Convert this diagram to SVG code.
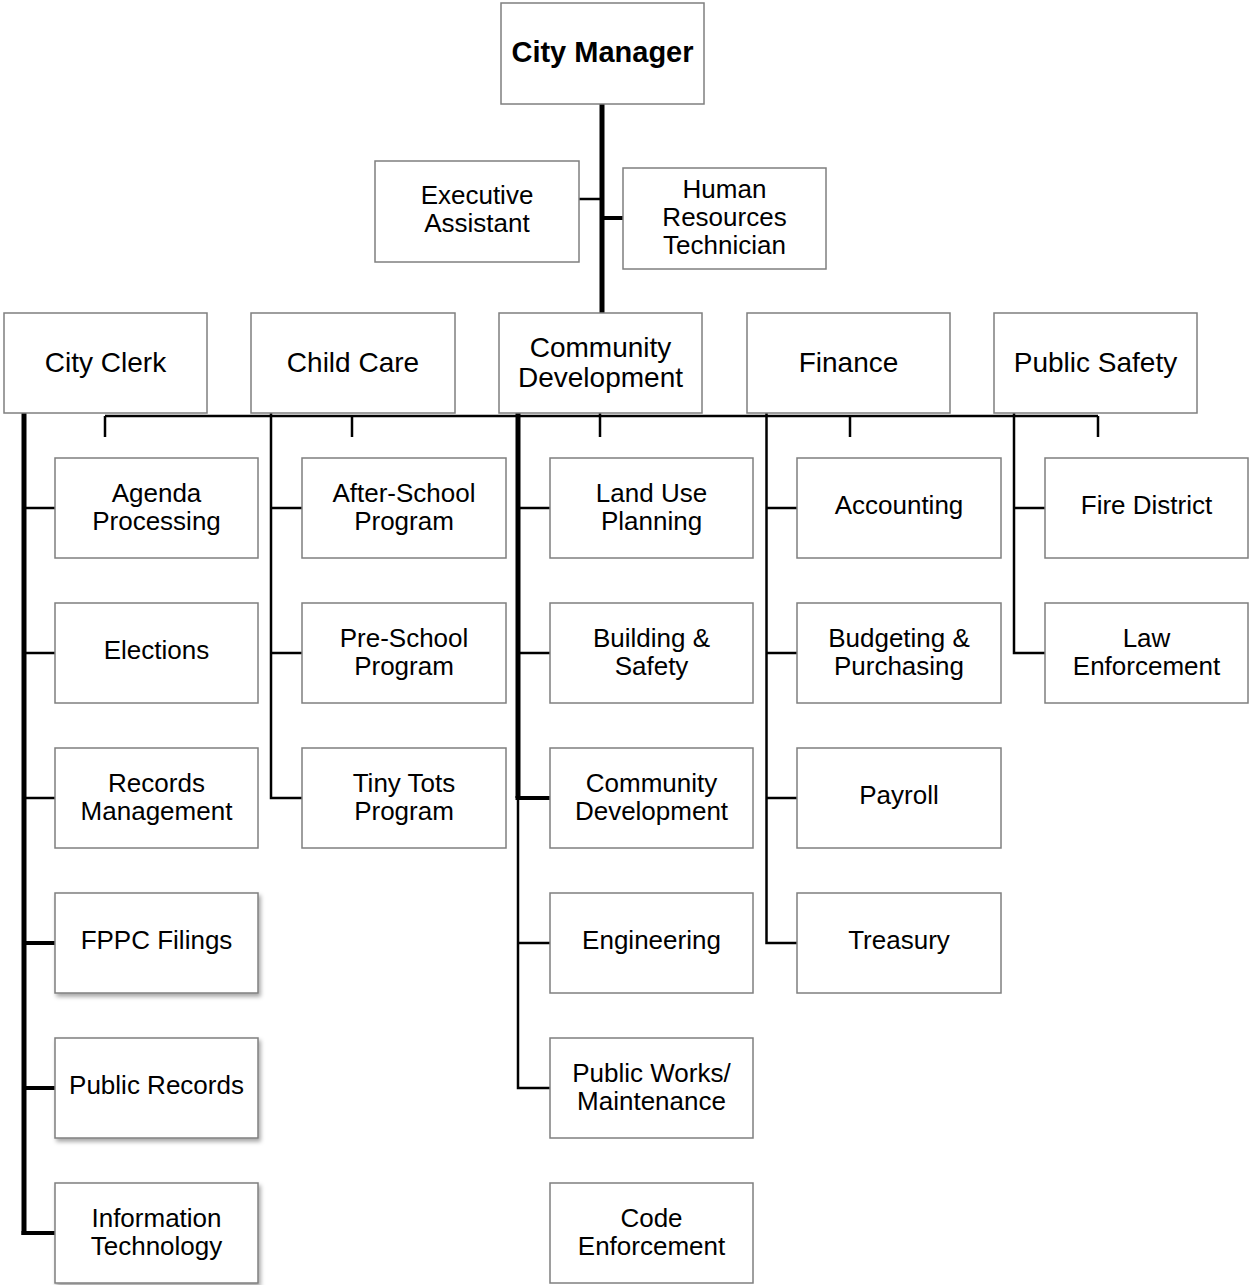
<svg xmlns="http://www.w3.org/2000/svg" width="1249" height="1285" viewBox="0 0 1249 1285">
  <style>
    .box { fill: #ffffff; stroke: #7f7f7f; stroke-width: 1.5; }
    .t { font-family: "Liberation Sans", Arial, sans-serif; font-size: 26px; text-anchor: middle; fill: #000000; }
    .top { font-size: 28px; }
    .cm { font-size: 29px; font-weight: bold; }
    .ln { fill: none; stroke: #000000; stroke-width: 2.5; }
    .ln4 { fill: none; stroke: #000000; stroke-width: 4; }
    .ln5 { fill: none; stroke: #000000; stroke-width: 5; }
  </style>
  <defs>
    <filter id="shadow" x="-10%" y="-10%" width="125%" height="130%">
      <feDropShadow dx="2" dy="3" stdDeviation="2" flood-color="#000000" flood-opacity="0.35"/>
    </filter>
  </defs>
  <rect width="1249" height="1285" fill="#ffffff"/>

  <!-- connectors -->
  <g id="connectors">
    <!-- executive line -->
    <line class="ln5" x1="602" y1="104" x2="602" y2="313"/>
    <line class="ln" x1="579" y1="199" x2="602" y2="199"/>
    <line class="ln4" x1="602" y1="218" x2="623" y2="218"/>
    <!-- department bus with stubs -->
    <line class="ln" x1="105" y1="416" x2="1098" y2="416"/>
    <line class="ln" x1="105" y1="416" x2="105" y2="437"/>
    <line class="ln" x1="352" y1="416" x2="352" y2="437"/>
    <line class="ln" x1="600" y1="413" x2="600" y2="437"/>
    <line class="ln" x1="850" y1="416" x2="850" y2="437"/>
    <line class="ln" x1="1098" y1="416" x2="1098" y2="437"/>
    <!-- City Clerk column -->
    <line class="ln5" x1="24" y1="413" x2="24" y2="1235"/>
    <line class="ln" x1="24" y1="508" x2="55" y2="508"/>
    <line class="ln" x1="24" y1="653" x2="55" y2="653"/>
    <line class="ln" x1="24" y1="798" x2="55" y2="798"/>
    <line class="ln4" x1="24" y1="943" x2="55" y2="943"/>
    <line class="ln4" x1="24" y1="1088" x2="55" y2="1088"/>
    <line class="ln4" x1="21.5" y1="1233" x2="55" y2="1233"/>
    <!-- Child Care column -->
    <polyline class="ln" points="271,413 271,798 302,798"/>
    <line class="ln" x1="271" y1="508" x2="302" y2="508"/>
    <line class="ln" x1="271" y1="653" x2="302" y2="653"/>
    <!-- Community Development column -->
    <line class="ln5" x1="518" y1="413" x2="518" y2="798"/>
    <polyline class="ln" points="518,798 518,1088 550,1088"/>
    <line class="ln" x1="518" y1="508" x2="550" y2="508"/>
    <line class="ln" x1="518" y1="653" x2="550" y2="653"/>
    <line class="ln4" x1="515.5" y1="798" x2="550" y2="798"/>
    <line class="ln" x1="518" y1="943" x2="550" y2="943"/>
    <!-- Finance column -->
    <polyline class="ln" points="766.5,413 766.5,943 797,943"/>
    <line class="ln" x1="766.5" y1="508" x2="797" y2="508"/>
    <line class="ln" x1="766.5" y1="653" x2="797" y2="653"/>
    <line class="ln" x1="766.5" y1="798" x2="797" y2="798"/>
    <!-- Public Safety column -->
    <polyline class="ln" points="1014,413 1014,653 1045,653"/>
    <line class="ln" x1="1014" y1="508" x2="1045" y2="508"/>
  </g>

  <!-- top -->
  <g id="city-manager">
    <rect class="box" x="501" y="3" width="203" height="101"/>
    <text class="t cm" x="602.5" y="62">City Manager</text>
  </g>
  <g id="executive-assistant">
    <rect class="box" x="375" y="161" width="204" height="101"/>
    <text class="t" x="477" y="204">Executive</text>
    <text class="t" x="477" y="232">Assistant</text>
  </g>
  <g id="hr-technician">
    <rect class="box" x="623" y="168" width="203" height="101"/>
    <text class="t" x="724.5" y="198">Human</text>
    <text class="t" x="724.5" y="226">Resources</text>
    <text class="t" x="724.5" y="254">Technician</text>
  </g>

  <!-- departments -->
  <g id="city-clerk">
    <rect class="box" x="4" y="313" width="203" height="100"/>
    <text class="t top" x="105.5" y="372">City Clerk</text>
  </g>
  <g id="child-care">
    <rect class="box" x="251" y="313" width="204" height="100"/>
    <text class="t top" x="353" y="372">Child Care</text>
  </g>
  <g id="community-development">
    <rect class="box" x="499" y="313" width="203" height="100"/>
    <text class="t top" x="600.5" y="357">Community</text>
    <text class="t top" x="600.5" y="387">Development</text>
  </g>
  <g id="finance">
    <rect class="box" x="747" y="313" width="203" height="100"/>
    <text class="t top" x="848.5" y="372">Finance</text>
  </g>
  <g id="public-safety">
    <rect class="box" x="994" y="313" width="203" height="100"/>
    <text class="t top" x="1095.5" y="372">Public Safety</text>
  </g>

  <!-- City Clerk units -->
  <g id="agenda-processing">
    <rect class="box" x="55" y="458" width="203" height="100"/>
    <text class="t" x="156.5" y="502">Agenda</text>
    <text class="t" x="156.5" y="530">Processing</text>
  </g>
  <g id="elections">
    <rect class="box" x="55" y="603" width="203" height="100"/>
    <text class="t" x="156.5" y="659">Elections</text>
  </g>
  <g id="records-management">
    <rect class="box" x="55" y="748" width="203" height="100"/>
    <text class="t" x="156.5" y="792">Records</text>
    <text class="t" x="156.5" y="820">Management</text>
  </g>
  <g id="fppc-filings">
    <rect class="box" x="55" y="893" width="203" height="100" filter="url(#shadow)"/>
    <text class="t" x="156.5" y="949">FPPC Filings</text>
  </g>
  <g id="public-records">
    <rect class="box" x="55" y="1038" width="203" height="100" filter="url(#shadow)"/>
    <text class="t" x="156.5" y="1094">Public Records</text>
  </g>
  <g id="information-technology">
    <rect class="box" x="55" y="1183" width="203" height="100" filter="url(#shadow)"/>
    <text class="t" x="156.5" y="1227">Information</text>
    <text class="t" x="156.5" y="1255">Technology</text>
  </g>

  <!-- Child Care units -->
  <g id="after-school">
    <rect class="box" x="302" y="458" width="204" height="100"/>
    <text class="t" x="404" y="502">After-School</text>
    <text class="t" x="404" y="530">Program</text>
  </g>
  <g id="pre-school">
    <rect class="box" x="302" y="603" width="204" height="100"/>
    <text class="t" x="404" y="647">Pre-School</text>
    <text class="t" x="404" y="675">Program</text>
  </g>
  <g id="tiny-tots">
    <rect class="box" x="302" y="748" width="204" height="100"/>
    <text class="t" x="404" y="792">Tiny Tots</text>
    <text class="t" x="404" y="820">Program</text>
  </g>

  <!-- Community Development units -->
  <g id="land-use-planning">
    <rect class="box" x="550" y="458" width="203" height="100"/>
    <text class="t" x="651.5" y="502">Land Use</text>
    <text class="t" x="651.5" y="530">Planning</text>
  </g>
  <g id="building-safety">
    <rect class="box" x="550" y="603" width="203" height="100"/>
    <text class="t" x="651.5" y="647">Building &amp;</text>
    <text class="t" x="651.5" y="675">Safety</text>
  </g>
  <g id="community-development-unit">
    <rect class="box" x="550" y="748" width="203" height="100"/>
    <text class="t" x="651.5" y="792">Community</text>
    <text class="t" x="651.5" y="820">Development</text>
  </g>
  <g id="engineering">
    <rect class="box" x="550" y="893" width="203" height="100"/>
    <text class="t" x="651.5" y="949">Engineering</text>
  </g>
  <g id="public-works">
    <rect class="box" x="550" y="1038" width="203" height="100"/>
    <text class="t" x="651.5" y="1082">Public Works/</text>
    <text class="t" x="651.5" y="1110">Maintenance</text>
  </g>
  <g id="code-enforcement">
    <rect class="box" x="550" y="1183" width="203" height="100"/>
    <text class="t" x="651.5" y="1227">Code</text>
    <text class="t" x="651.5" y="1255">Enforcement</text>
  </g>

  <!-- Finance units -->
  <g id="accounting">
    <rect class="box" x="797" y="458" width="204" height="100"/>
    <text class="t" x="899" y="514">Accounting</text>
  </g>
  <g id="budgeting-purchasing">
    <rect class="box" x="797" y="603" width="204" height="100"/>
    <text class="t" x="899" y="647">Budgeting &amp;</text>
    <text class="t" x="899" y="675">Purchasing</text>
  </g>
  <g id="payroll">
    <rect class="box" x="797" y="748" width="204" height="100"/>
    <text class="t" x="899" y="804">Payroll</text>
  </g>
  <g id="treasury">
    <rect class="box" x="797" y="893" width="204" height="100"/>
    <text class="t" x="899" y="949">Treasury</text>
  </g>

  <!-- Public Safety units -->
  <g id="fire-district">
    <rect class="box" x="1045" y="458" width="203" height="100"/>
    <text class="t" x="1146.5" y="514">Fire District</text>
  </g>
  <g id="law-enforcement">
    <rect class="box" x="1045" y="603" width="203" height="100"/>
    <text class="t" x="1146.5" y="647">Law</text>
    <text class="t" x="1146.5" y="675">Enforcement</text>
  </g>
</svg>
